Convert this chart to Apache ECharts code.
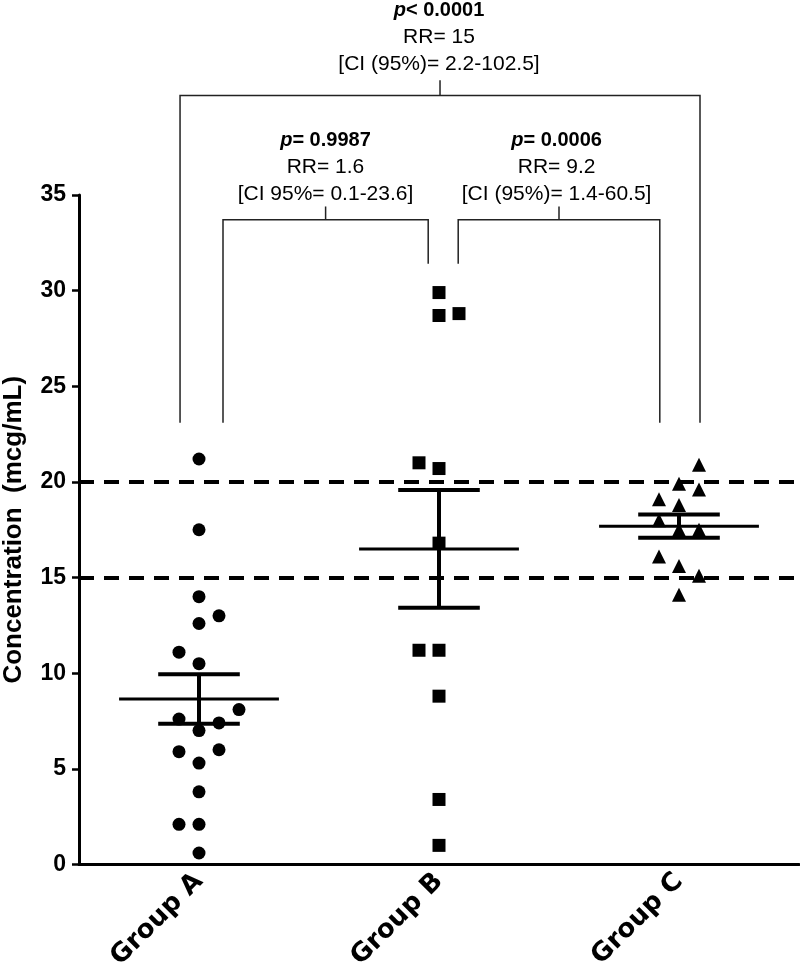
<!DOCTYPE html>
<html><head><meta charset="utf-8">
<script src="https://cdn.jsdelivr.net/npm/echarts@6/dist/echarts.min.js"></script>
<style>html,body{margin:0;padding:0;background:#fff}#c{width:800px;height:977px}</style>
</head><body><div id="c"></div>
<script>
// ---- data ----
const categories = ['Group A', 'Group B', 'Group C'];
const groupA = [21.2, 17.5, 14.0, 13.0, 12.6, 11.1, 10.5, 8.1, 7.6, 7.4, 7.0, 5.9, 6.0, 5.3, 3.8, 2.1, 2.1, 0.6];
const groupAJitter = [0, 0, 0, 1, 0, -1, 0, 2, -1, 1, 0, -1, 1, 0, 0, -1, 0, 0];
const groupB = [29.9, 28.7, 28.8, 21.0, 20.7, 16.8, 11.2, 11.2, 8.8, 3.4, 1.0];
const groupBJitter = [0, 0, 1, -1, 0, 0, -1, 0, 0, 0, 0];
const groupC = [20.9, 19.9, 19.6, 19.1, 18.8, 18.0, 17.5, 17.5, 16.1, 15.6, 15.1, 14.1];
const groupCJitter = [1, 0, 1, -1, 0, -1, 0, 1, -1, 0, 1, 0];
const yMin = 0, yMax = 35, yStep = 5;
const referenceLines = [15, 20];
const yAxisName = 'Concentration  (mcg/mL)';
const topComparison = { pLabel: 'p', pText: '< 0.0001', rr: 'RR= 15', ci: '[CI (95%)= 2.2-102.5]' };
const leftComparison = { pLabel: 'p', pText: '= 0.9987', rr: 'RR= 1.6', ci: '[CI 95%= 0.1-23.6]' };
const rightComparison = { pLabel: 'p', pText: '= 0.0006', rr: 'RR= 9.2', ci: '[CI (95%)= 1.4-60.5]' };

// ---- helpers ----
const JITTER = 1 / 12;
function pts(vals, jit, gi) { return vals.map((v, k) => [gi + jit[k] * JITTER, v]); }
function stats(vals) {
  const n = vals.length, m = vals.reduce((a, b) => a + b, 0) / n;
  const sd = Math.sqrt(vals.reduce((a, b) => a + (b - m) * (b - m), 0) / (n - 1));
  const se = sd / Math.sqrt(n);
  return [m, m - se, m + se];
}
const summary = [groupA, groupB, groupC].map((g, i) => [i].concat(stats(g)));

const chart = echarts.init(document.getElementById('c'), null, { renderer: 'canvas' });
const MEAN_HALF = 0.333, CAP_HALF = 0.17;
const option = {
  backgroundColor: '#fff',
  animation: false,
  grid: { left: 79, right: 1, top: 195, bottom: 112.5, containLabel: false, outerBoundsMode: 'none' },
  xAxis: [
    {
      type: 'category', data: categories, boundaryGap: true,
      axisLine: { onZero: false, lineStyle: { color: '#000', width: 3 } },
      axisTick: { alignWithLabel: true, length: 8, lineStyle: { color: '#000', width: 2.5 } },
      axisLabel: { rotate: 45, margin: 13, color: '#000', fontFamily: 'DejaVu Sans', fontWeight: 'bold', fontSize: 26 },
      splitLine: { show: false }
    },
    { type: 'value', min: -0.5, max: 2.5, show: false }
  ],
  yAxis: {
    type: 'value', min: yMin, max: yMax, interval: yStep,
    name: yAxisName, nameLocation: 'middle', nameGap: 52,
    nameTextStyle: { color: '#000', fontFamily: 'Liberation Sans', fontWeight: 'bold', fontSize: 26 },
    axisLine: { show: true, onZero: false, lineStyle: { color: '#000', width: 3 } },
    axisTick: { show: true, length: 7, lineStyle: { color: '#000', width: 2.5 } },
    axisLabel: { margin: 13, color: '#000', fontFamily: 'Liberation Sans', fontWeight: 'bold', fontSize: 23 },
    splitLine: { show: false }
  },
  series: [
    {
      type: 'scatter', xAxisIndex: 1, symbol: 'circle', symbolSize: 13,
      itemStyle: { color: '#000', opacity: 1 }, data: pts(groupA, groupAJitter, 0), z: 3,
      markLine: {
        silent: true, symbol: 'none', label: { show: false },
        lineStyle: { color: '#000', width: 4, type: [15, 10], opacity: 1 },
        data: referenceLines.map(v => ({ yAxis: v }))
      }
    },
    { type: 'scatter', xAxisIndex: 1, symbol: 'rect', symbolSize: 13, itemStyle: { color: '#000', opacity: 1 }, data: pts(groupB, groupBJitter, 1), z: 3 },
    { type: 'scatter', xAxisIndex: 1, symbol: 'triangle', symbolSize: 14, itemStyle: { color: '#000', opacity: 1 }, data: pts(groupC, groupCJitter, 2), z: 3 },
    {
      type: 'custom', xAxisIndex: 1, z: 4, data: summary,
      encode: { x: 0, y: 1 },
      renderItem: function (params, api) {
        const i = api.value(0), m = api.value(1), lo = api.value(2), hi = api.value(3);
        const ln = (x1, y1, x2, y2, w) => {
          const a = api.coord([x1, y1]), b = api.coord([x2, y2]);
          return { type: 'line', shape: { x1: a[0], y1: a[1], x2: b[0], y2: b[1] }, style: { stroke: '#000', lineWidth: w, lineCap: 'butt' } };
        };
        return {
          type: 'group', children: [
            ln(i - MEAN_HALF, m, i + MEAN_HALF, m, 3),
            ln(i, lo, i, hi, 4),
            ln(i - CAP_HALF, hi, i + CAP_HALF, hi, 4),
            ln(i - CAP_HALF, lo, i + CAP_HALF, lo, 4)
          ]
        };
      }
    }
  ]
};
chart.setOption(option);

// ---- annotation brackets (positioned through the axes) ----
const P = (x, y) => chart.convertToPixel({ xAxisIndex: 1, yAxisIndex: 0 }, [x, y]);
function bracket(x1, x2, yBar, yLeft, yRight, yTick) {
  const xm = (x1 + x2) / 2;
  return [
    { type: 'polyline', shape: { points: [P(x1, yLeft), P(x1, yBar), P(x2, yBar), P(x2, yRight)] }, style: { stroke: '#222', lineWidth: 1.5, fill: null } },
    { type: 'line', shape: { x1: P(xm, yBar)[0], y1: P(xm, yBar)[1], x2: P(xm, yTick)[0], y2: P(xm, yTick)[1] }, style: { stroke: '#222', lineWidth: 1.5 } }
  ];
}
function labelBlock(c, xData, yTop) {
  const x = P(xData, 0)[0];
  const base = { align: 'center', verticalAlign: 'middle', fill: '#000', fontFamily: 'Liberation Sans' };
  return [
    { type: 'text', style: Object.assign({}, base, { x: x, y: yTop, text: '{i|' + c.pLabel + '}{b|' + c.pText + '}', rich: { i: { fontFamily: 'Liberation Sans', fontStyle: 'italic', fontWeight: 'bold', fontSize: 20, fill: '#000' }, b: { fontFamily: 'Liberation Sans', fontWeight: 'bold', fontSize: 20, fill: '#000' } } }) },
    { type: 'text', style: Object.assign({}, base, { x: x, y: yTop + 27, text: c.rr, fontSize: 21 }) },
    { type: 'text', style: Object.assign({}, base, { x: x, y: yTop + 54, text: c.ci, fontSize: 21 }) }
  ];
}
const elements = [].concat(
  bracket(-0.079, 2.0875, 40.2, 23.1, 23.1, 41.0),
  bracket(0.10, 0.955, 33.7, 23.1, 31.4, 34.4),
  bracket(1.08, 1.92, 33.7, 31.4, 23.1, 34.4),
  labelBlock(topComparison, 1.0, 10),
  labelBlock(leftComparison, 0.527, 140),
  labelBlock(rightComparison, 1.49, 140)
);
chart.setOption({ graphic: { elements: elements } });
</script>
</body></html>
